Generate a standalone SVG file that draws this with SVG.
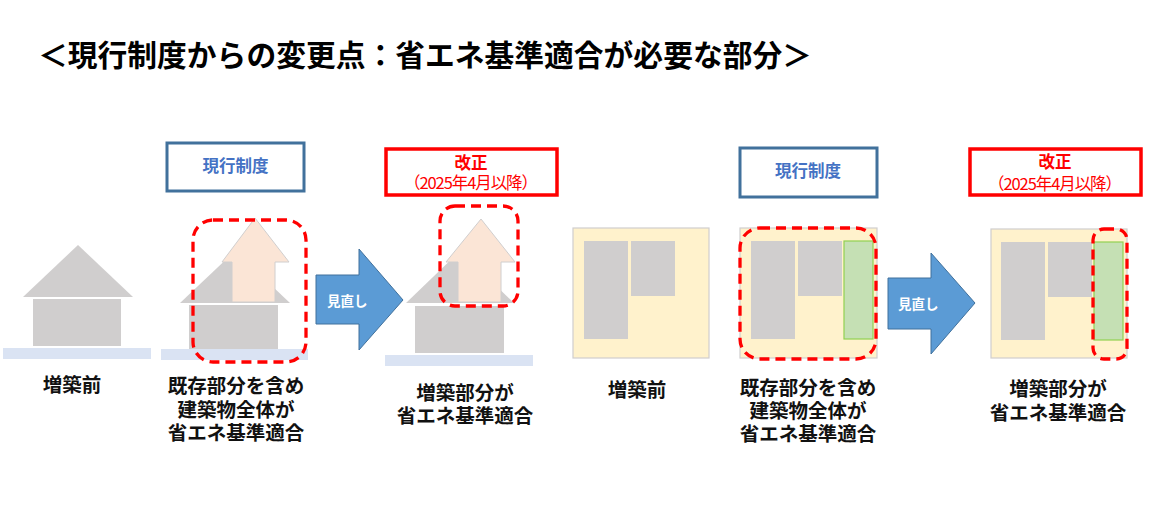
<svg xmlns="http://www.w3.org/2000/svg" width="1153" height="520" viewBox="0 0 1153 520">
<style>
text{font-family:"Noto Sans CJK JP","Noto Sans",sans-serif;dominant-baseline:central;text-anchor:middle}
.title{font-size:29.5px;font-weight:bold;fill:#000;text-anchor:start}
.lbl{font-size:19.5px;font-weight:bold;fill:#111}
.cur{fill:#fff;stroke:#41719c;stroke-width:3}
.curt{font-size:16.5px;font-weight:bold;fill:#4472c4}
.rev{fill:#fff;stroke:#ff0000;stroke-width:3.5}
.revt{font-size:16.5px;font-weight:bold;fill:#ff0000}
.revt2{font-size:16.5px;fill:#ff0000}
.gray{fill:#d0cece}
.ground{fill:#dae3f3}
.add{fill:#fbe5d6;stroke:#d0cece;stroke-width:1}
.yel{fill:#fff2cc;stroke:#d0cece;stroke-width:1.2}
.grn{fill:#c5e0b4;stroke:#92d050;stroke-width:1.2}
.dash{fill:none;stroke:#ff0000;stroke-width:3.3;stroke-dasharray:10 6}
.arr{fill:#5b9bd5;stroke:#41719c;stroke-width:1}
.arrt{font-size:13.5px;font-weight:bold;fill:#fff;text-anchor:start}
</style>
<text class="title" x="38" y="53" textLength="774" lengthAdjust="spacingAndGlyphs">＜現行制度からの変更点：省エネ基準適合が必要な部分＞</text>

<g id="house-before">
<polygon class="gray" points="23,297 78,245 133,297"/>
<rect class="gray" x="33" y="299" width="88" height="47"/>
<rect class="ground" x="3" y="348" width="148" height="11"/>
<text class="lbl" x="72" y="383">増築前</text>
</g>

<g id="house-current">
<rect class="cur" x="167" y="143" width="137" height="48"/>
<text class="curt" x="235.5" y="165">現行制度</text>
<polygon class="gray" points="180,303 235,251 290,303"/>
<rect class="gray" x="189" y="305" width="89" height="44"/>
<rect class="ground" x="161" y="349" width="147" height="11"/>
<polygon class="add" points="255,218 289,262 275,262 275,302 232,302 232,262 222,262"/>
<rect class="dash" x="193" y="220" width="113" height="142" rx="20"/>
<text class="lbl" x="236" y="384">既存部分を含め</text>
<text class="lbl" x="236" y="408">建築物全体が</text>
<text class="lbl" x="236" y="431">省エネ基準適合</text>
</g>

<g id="house-revised">
<rect class="rev" x="386" y="149" width="171" height="46"/>
<text class="revt" x="471" y="162">改正</text>
<text class="revt2" x="471" y="182" textLength="134">（2025年4月以降）</text>
<polygon class="gray" points="406,303 460,251 514,303"/>
<rect class="gray" x="415" y="306" width="89" height="47"/>
<rect class="ground" x="385" y="355" width="148" height="11"/>
<polygon class="add" points="481,219 515,262 501,262 501,302 458,302 458,262 446,262"/>
<rect class="dash" x="440" y="206" width="78" height="100" rx="15"/>
<text class="lbl" x="465" y="391">増築部分が</text>
<text class="lbl" x="465" y="414">省エネ基準適合</text>
</g>

<g id="plan-before">
<rect class="yel" x="573" y="228" width="136" height="130"/>
<rect class="gray" x="584" y="241" width="44" height="98"/>
<rect class="gray" x="631" y="241" width="44" height="55"/>
<text class="lbl" x="637" y="388">増築前</text>
</g>

<g id="plan-current">
<rect class="cur" x="740" y="148" width="137" height="49"/>
<text class="curt" x="808" y="170">現行制度</text>
<rect class="yel" x="740" y="228" width="137" height="130"/>
<rect class="gray" x="751" y="241" width="44" height="98"/>
<rect class="gray" x="798" y="241" width="44" height="55"/>
<rect class="grn" x="844" y="241" width="29" height="98"/>
<rect class="dash" x="740" y="228" width="136" height="131" rx="20"/>
<text class="lbl" x="808" y="386">既存部分を含め</text>
<text class="lbl" x="808" y="409">建築物全体が</text>
<text class="lbl" x="808" y="432">省エネ基準適合</text>
</g>

<g id="plan-revised">
<rect class="rev" x="970" y="149" width="171" height="46"/>
<text class="revt" x="1055" y="161">改正</text>
<text class="revt2" x="1055" y="183" textLength="134">（2025年4月以降）</text>
<rect class="yel" x="991" y="229" width="136" height="129"/>
<rect class="gray" x="1001" y="242" width="44" height="98"/>
<rect class="gray" x="1048" y="242" width="44" height="55"/>
<rect class="grn" x="1094" y="242" width="29" height="98"/>
<rect class="dash" x="1093" y="229" width="34" height="130" rx="11"/>
<text class="lbl" x="1058" y="387">増築部分が</text>
<text class="lbl" x="1058" y="411">省エネ基準適合</text>
</g>

<g id="connectors">
<polygon class="arr" points="316,275 359,275 359,249 403,300 359,350 359,324 316,324"/>
<text class="arrt" x="327" y="300">見直し</text>
<polygon class="arr" points="888,278 931,278 931,253 975,303 931,354 931,329 888,329"/>
<text class="arrt" x="898" y="303">見直し</text>
</g>
</svg>
